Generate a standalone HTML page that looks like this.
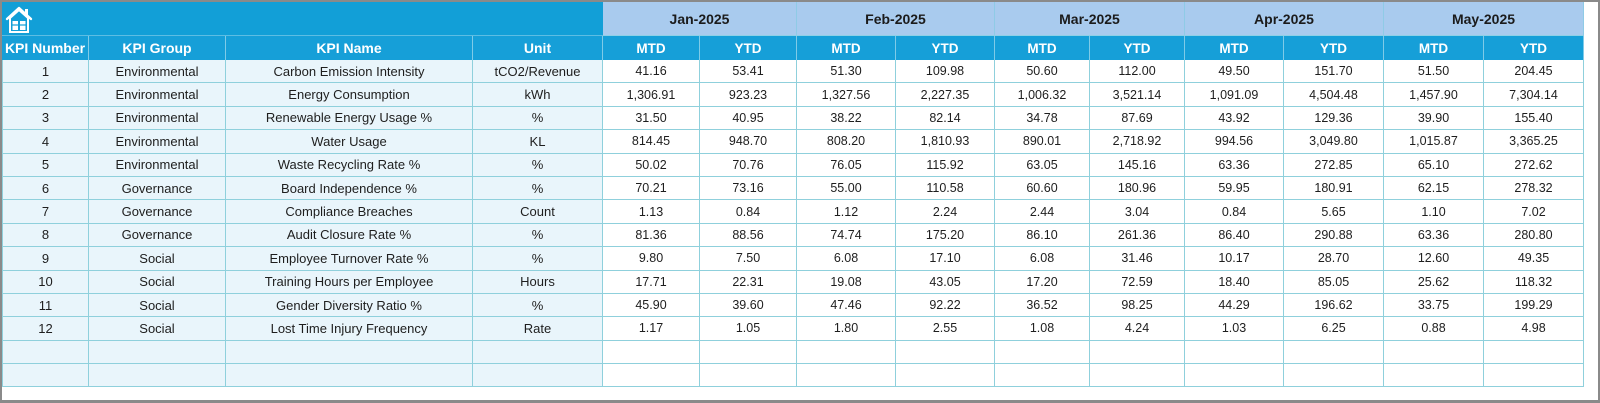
<!DOCTYPE html>
<html>
<head>
<meta charset="utf-8">
<style>
  html,body{margin:0;padding:0;}
  body{width:1600px;height:403px;position:relative;overflow:hidden;background:#fff;font-family:"Liberation Sans",Arial,sans-serif;}
  .frame{position:absolute;left:0;top:0;width:1600px;height:403px;box-sizing:border-box;border-top:2px solid #8a8a8a;border-left:2px solid #8a8a8a;border-right:2px solid #8a8a8a;border-bottom:3px solid #8a8a8a;pointer-events:none;}
  .grid{position:absolute;left:2px;top:2px;width:1582px;height:385.6px;display:grid;
    grid-template-columns:87px 137px 247px 130px 97px 97px 99px 99px 95px 95px 99px 100px 100px 100px;
    grid-template-rows:34px 24px repeat(14,23.4px);}
  .grid>div{box-sizing:border-box;display:flex;align-items:center;justify-content:center;white-space:nowrap;overflow:hidden;}
  .ban{grid-column:1 / span 4;background:#129fd7;justify-content:flex-start !important;padding-left:3px;border-bottom:1px solid #5dbde3;}
  .mon{grid-column:span 2;background:#a9cbee;color:#1b1b1b;font-weight:bold;font-size:14px;border-right:1px solid #8fcbe6;border-bottom:1px solid #8fd0e6;}
  .h{background:#169fd8;color:#fff;font-weight:bold;font-size:14px;border-right:1px solid #7fcbe8;}
  .h.s{font-size:13.5px;}
  .l{background:#e9f5fb;color:#1e1e1e;font-size:13px;border-right:1px solid #8fd0dc;border-bottom:1px solid #8fd0dc;}
  .n{background:#fff;color:#1e1e1e;font-size:12.5px;border-right:1px solid #8fd0dc;border-bottom:1px solid #8fd0dc;}
  .first{border-left:1px solid #8fd0dc;}
</style>
</head>
<body>
<div class="grid">
  <div class="ban">
    <svg width="28" height="28" viewBox="0 0 28 28">
      <polyline points="2,14 14,3 26,14" fill="none" stroke="#fff" stroke-width="2.4" stroke-linejoin="round" stroke-linecap="round"/>
      <rect x="20" y="4" width="3" height="6" fill="#fff"/>
      <path d="M5,13 L14,5 L23,13 L23,27 L5,27 Z" fill="none" stroke="#fff" stroke-width="2"/>
      <rect x="7.5" y="16" width="5.5" height="9" fill="#fff"/>
      <rect x="15" y="16" width="5.5" height="9" fill="#fff"/>
      <line x1="7.5" y1="20" x2="13" y2="20" stroke="#129fd7" stroke-width="1.2"/>
      <line x1="15" y1="20" x2="20.5" y2="20" stroke="#129fd7" stroke-width="1.2"/>
    </svg>
  </div>
  <div class="mon">Jan-2025</div>
  <div class="mon">Feb-2025</div>
  <div class="mon">Mar-2025</div>
  <div class="mon">Apr-2025</div>
  <div class="mon">May-2025</div>

  <div class="h">KPI Number</div><div class="h">KPI Group</div><div class="h">KPI Name</div><div class="h">Unit</div>
  <div class="h s">MTD</div><div class="h s">YTD</div><div class="h s">MTD</div><div class="h s">YTD</div><div class="h s">MTD</div><div class="h s">YTD</div><div class="h s">MTD</div><div class="h s">YTD</div><div class="h s">MTD</div><div class="h s">YTD</div>

  <div class="l first">1</div><div class="l">Environmental</div><div class="l">Carbon Emission Intensity</div><div class="l">tCO2/Revenue</div>
  <div class="n">41.16</div><div class="n">53.41</div><div class="n">51.30</div><div class="n">109.98</div><div class="n">50.60</div><div class="n">112.00</div><div class="n">49.50</div><div class="n">151.70</div><div class="n">51.50</div><div class="n">204.45</div>

  <div class="l first">2</div><div class="l">Environmental</div><div class="l">Energy Consumption</div><div class="l">kWh</div>
  <div class="n">1,306.91</div><div class="n">923.23</div><div class="n">1,327.56</div><div class="n">2,227.35</div><div class="n">1,006.32</div><div class="n">3,521.14</div><div class="n">1,091.09</div><div class="n">4,504.48</div><div class="n">1,457.90</div><div class="n">7,304.14</div>

  <div class="l first">3</div><div class="l">Environmental</div><div class="l">Renewable Energy Usage %</div><div class="l">%</div>
  <div class="n">31.50</div><div class="n">40.95</div><div class="n">38.22</div><div class="n">82.14</div><div class="n">34.78</div><div class="n">87.69</div><div class="n">43.92</div><div class="n">129.36</div><div class="n">39.90</div><div class="n">155.40</div>

  <div class="l first">4</div><div class="l">Environmental</div><div class="l">Water Usage</div><div class="l">KL</div>
  <div class="n">814.45</div><div class="n">948.70</div><div class="n">808.20</div><div class="n">1,810.93</div><div class="n">890.01</div><div class="n">2,718.92</div><div class="n">994.56</div><div class="n">3,049.80</div><div class="n">1,015.87</div><div class="n">3,365.25</div>

  <div class="l first">5</div><div class="l">Environmental</div><div class="l">Waste Recycling Rate %</div><div class="l">%</div>
  <div class="n">50.02</div><div class="n">70.76</div><div class="n">76.05</div><div class="n">115.92</div><div class="n">63.05</div><div class="n">145.16</div><div class="n">63.36</div><div class="n">272.85</div><div class="n">65.10</div><div class="n">272.62</div>

  <div class="l first">6</div><div class="l">Governance</div><div class="l">Board Independence %</div><div class="l">%</div>
  <div class="n">70.21</div><div class="n">73.16</div><div class="n">55.00</div><div class="n">110.58</div><div class="n">60.60</div><div class="n">180.96</div><div class="n">59.95</div><div class="n">180.91</div><div class="n">62.15</div><div class="n">278.32</div>

  <div class="l first">7</div><div class="l">Governance</div><div class="l">Compliance Breaches</div><div class="l">Count</div>
  <div class="n">1.13</div><div class="n">0.84</div><div class="n">1.12</div><div class="n">2.24</div><div class="n">2.44</div><div class="n">3.04</div><div class="n">0.84</div><div class="n">5.65</div><div class="n">1.10</div><div class="n">7.02</div>

  <div class="l first">8</div><div class="l">Governance</div><div class="l">Audit Closure Rate %</div><div class="l">%</div>
  <div class="n">81.36</div><div class="n">88.56</div><div class="n">74.74</div><div class="n">175.20</div><div class="n">86.10</div><div class="n">261.36</div><div class="n">86.40</div><div class="n">290.88</div><div class="n">63.36</div><div class="n">280.80</div>

  <div class="l first">9</div><div class="l">Social</div><div class="l">Employee Turnover Rate %</div><div class="l">%</div>
  <div class="n">9.80</div><div class="n">7.50</div><div class="n">6.08</div><div class="n">17.10</div><div class="n">6.08</div><div class="n">31.46</div><div class="n">10.17</div><div class="n">28.70</div><div class="n">12.60</div><div class="n">49.35</div>

  <div class="l first">10</div><div class="l">Social</div><div class="l">Training Hours per Employee</div><div class="l">Hours</div>
  <div class="n">17.71</div><div class="n">22.31</div><div class="n">19.08</div><div class="n">43.05</div><div class="n">17.20</div><div class="n">72.59</div><div class="n">18.40</div><div class="n">85.05</div><div class="n">25.62</div><div class="n">118.32</div>

  <div class="l first">11</div><div class="l">Social</div><div class="l">Gender Diversity Ratio %</div><div class="l">%</div>
  <div class="n">45.90</div><div class="n">39.60</div><div class="n">47.46</div><div class="n">92.22</div><div class="n">36.52</div><div class="n">98.25</div><div class="n">44.29</div><div class="n">196.62</div><div class="n">33.75</div><div class="n">199.29</div>

  <div class="l first">12</div><div class="l">Social</div><div class="l">Lost Time Injury Frequency</div><div class="l">Rate</div>
  <div class="n">1.17</div><div class="n">1.05</div><div class="n">1.80</div><div class="n">2.55</div><div class="n">1.08</div><div class="n">4.24</div><div class="n">1.03</div><div class="n">6.25</div><div class="n">0.88</div><div class="n">4.98</div>

  <div class="l first"></div><div class="l"></div><div class="l"></div><div class="l"></div>
  <div class="n"></div><div class="n"></div><div class="n"></div><div class="n"></div><div class="n"></div><div class="n"></div><div class="n"></div><div class="n"></div><div class="n"></div><div class="n"></div>

  <div class="l first"></div><div class="l"></div><div class="l"></div><div class="l"></div>
  <div class="n"></div><div class="n"></div><div class="n"></div><div class="n"></div><div class="n"></div><div class="n"></div><div class="n"></div><div class="n"></div><div class="n"></div><div class="n"></div>
</div>
<div class="frame"></div>
</body>
</html>
